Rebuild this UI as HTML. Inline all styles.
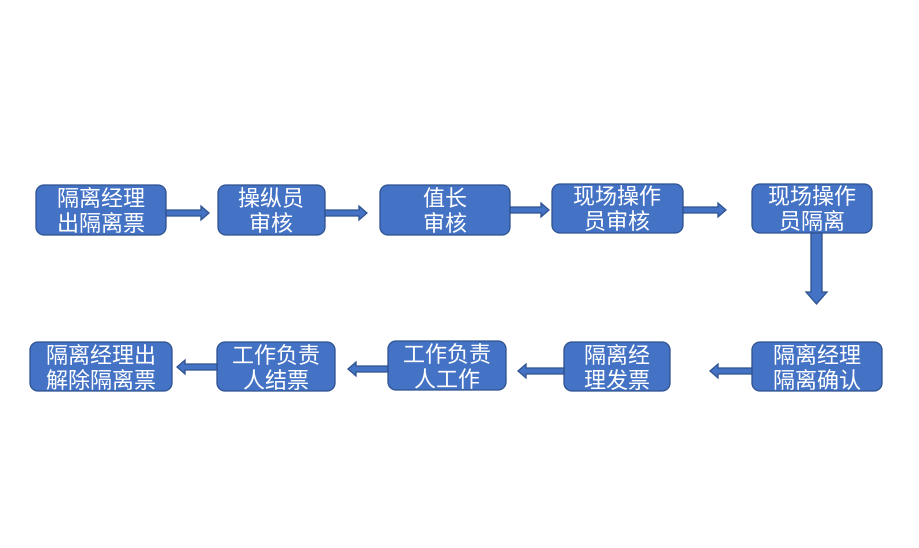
<!DOCTYPE html>
<html><head><meta charset="utf-8"><style>
html,body{margin:0;padding:0;background:#fff;}
svg text{font-family:"Liberation Sans","Noto Sans CJK SC",sans-serif;font-size:22px;fill:#fff;text-anchor:middle;}
</style></head><body>
<svg width="919" height="543" viewBox="0 0 919 543" xmlns="http://www.w3.org/2000/svg">
<g fill="#4472c4" stroke="#2f528f" stroke-width="1.3">
<rect x="36" y="185" width="130" height="50" rx="8"/>
<rect x="218" y="185" width="107" height="50" rx="8"/>
<rect x="380" y="185" width="130" height="50" rx="8"/>
<rect x="552" y="184" width="131" height="49" rx="8"/>
<rect x="752" y="184" width="120" height="49" rx="8"/>
<rect x="752" y="342" width="130" height="49" rx="8"/>
<rect x="564" y="342" width="106" height="49" rx="8"/>
<rect x="388" y="341" width="118" height="49" rx="8"/>
<rect x="217" y="342" width="118" height="49" rx="8"/>
<rect x="30" y="342" width="142" height="49" rx="8"/>
<polygon points="166,210 201,210 201,206 209,213 201,220 201,216 166,216"/>
<polygon points="325,210 359,210 359,206 367,213 359,220 359,216 325,216"/>
<polygon points="510,207 541,207 541,203 549,210 541,217 541,213 510,213"/>
<polygon points="683,207 718,207 718,203 726,210 718,217 718,213 683,213"/>
<polygon points="811,233 822,233 822,292 827,292 816.5,304 806,292 811,292"/>
<polygon points="752,368 718,368 718,364 710,371 718,378 718,374 752,374"/>
<polygon points="564,368 526,368 526,364 518,371 526,378 526,374 564,374"/>
<polygon points="388,366 356,366 356,362 348,369 356,376 356,372 388,372"/>
<polygon points="217,364 185,364 185,360 177,367 185,374 185,370 217,370"/>
</g>
<text x="101" y="206">隔离经理</text><text x="101" y="231">出隔离票</text>
<text x="271" y="206">操纵员</text><text x="271" y="231">审核</text>
<text x="445" y="206">值长</text><text x="445" y="231">审核</text>
<text x="617" y="204">现场操作</text><text x="617" y="229">员审核</text>
<text x="812" y="204">现场操作</text><text x="812" y="229">员隔离</text>
<text x="817" y="363">隔离经理</text><text x="817" y="388">隔离确认</text>
<text x="617" y="363">隔离经</text><text x="617" y="388">理发票</text>
<text x="447" y="362">工作负责</text><text x="447" y="387">人工作</text>
<text x="276" y="363">工作负责</text><text x="276" y="388">人结票</text>
<text x="101" y="363">隔离经理出</text><text x="101" y="388">解除隔离票</text>
</svg>
</body></html>
